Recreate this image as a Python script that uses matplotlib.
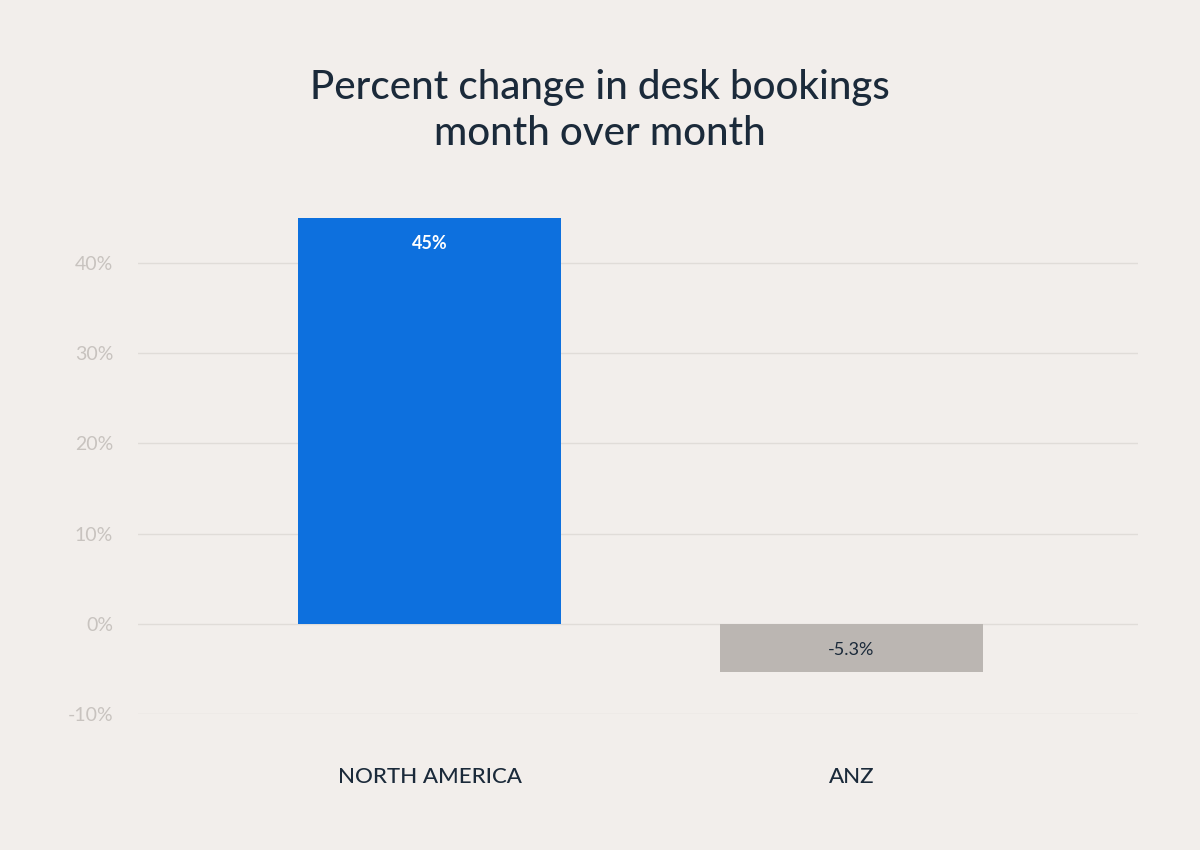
import matplotlib
matplotlib.use("Agg")
import matplotlib.pyplot as plt

categories = ["NORTH AMERICA", "ANZ"]
values = [45, -5.3]
value_labels = ["45%", "-5.3%"]
yticks = [-10, 0, 10, 20, 30, 40]
ytick_labels = ["-10%", "0%", "10%", "20%", "30%", "40%"]

bg = "#F2EEEB"
colors = ["#0D70DE", "#BBB6B2"]
dark = "#1B2A3A"

plt.rcParams["font.family"] = "Lato"
fig = plt.figure(figsize=(12, 8.5), dpi=100, facecolor=bg)
ax = fig.add_axes([0.115, 0.16, 0.8333, 0.5835], facecolor=bg)
x = list(range(len(categories)))
ax.bar(x, values, width=0.623, color=colors, zorder=3)
ax.set_xlim(-0.691, 1.679)
ax.set_ylim(-10, 45)
ax.set_yticks(yticks)
ax.set_yticklabels(ytick_labels, color="#C8C3BF", fontsize=14)
ax.grid(axis="y", color="#E0DCD8", linewidth=1, zorder=0)
ax.set_xticks(x)
ax.set_xticklabels(categories, color=dark, fontsize=16)
for lab in ax.get_xticklabels():
    lab.set_fontweight("medium")
ax.tick_params(axis="x", length=0, pad=38)
ax.tick_params(axis="y", length=0, pad=18)
for s in ax.spines.values():
    s.set_visible(False)
ax.text(0, 42.2, value_labels[0], ha="center", va="center", color="white", fontsize=13, fontweight="bold", zorder=4)
ax.text(1, -2.9, value_labels[1], ha="center", va="center", color=dark, fontsize=13, zorder=4)
fig.text(0.5, 0.87, "Percent change in desk bookings\nmonth over month", ha="center", va="center",
         fontsize=29, color=dark, fontweight="medium", linespacing=1.3)
fig.savefig("out.png", facecolor=bg)
